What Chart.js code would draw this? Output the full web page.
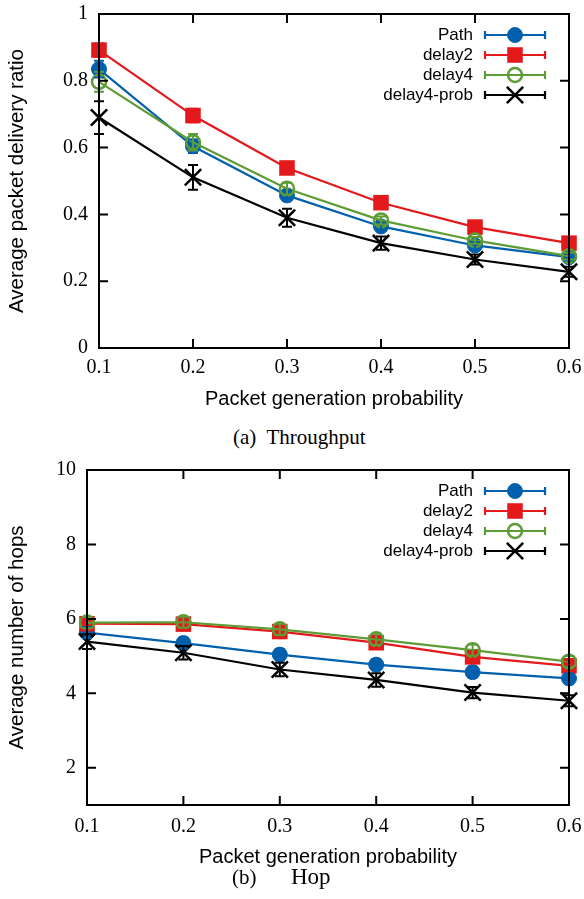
<!DOCTYPE html>
<html>
<head>
<meta charset="utf-8">
<script src="https://cdn.jsdelivr.net/npm/chart.js@4/dist/chart.umd.min.js"></script>
<style>
body{margin:0;background:#fff;width:584px;height:899px;position:relative;overflow:hidden}
.box{position:absolute;left:0;width:584px}
.cap{position:absolute;font-family:"Liberation Serif",serif;font-size:21px;line-height:24px;white-space:pre;color:#000}
</style>
</head>
<body>
<div class="box" style="top:0;height:411px"><canvas id="thr"></canvas></div>
<div class="box" style="top:455px;height:414px"><canvas id="hop"></canvas></div>
<div class="cap" style="left:233px;top:425px">(a)  Throughput</div>
<div class="cap" style="left:232px;top:865px">(b)</div>
<div class="cap" style="left:291px;top:865px;font-size:23px">Hop</div>
<script>
// x values (packet generation probability)
const probs = [0.1, 0.2, 0.3, 0.4, 0.5, 0.6];
const names = ['Path', 'delay2', 'delay4', 'delay4-prob'];
const colors = ['#0060ad', '#e3191c', '#5e9c36', '#000000'];

// (a) throughput
const thrPath = [0.835, 0.604, 0.457, 0.364, 0.307, 0.272];
const thrDelay2 = [0.892, 0.696, 0.539, 0.435, 0.362, 0.314];
const thrDelay4 = [0.797, 0.616, 0.477, 0.382, 0.322, 0.275];
const thrProb = [0.690, 0.511, 0.390, 0.314, 0.265, 0.228];
const thrPathErr = [0.025, 0.02, 0.015, 0.012, 0.01, 0.01];
const thrDelay2Err = [0.02, 0.02, 0.015, 0.012, 0.01, 0.01];
const thrDelay4Err = [0.03, 0.025, 0.018, 0.012, 0.01, 0.01];
const thrProbErr = [0.049, 0.037, 0.027, 0.02, 0.015, 0.015];

// (b) hops
const hopPath = [5.63, 5.35, 5.04, 4.77, 4.57, 4.40];
const hopDelay2 = [5.87, 5.86, 5.66, 5.36, 4.98, 4.74];
const hopDelay4 = [5.90, 5.91, 5.72, 5.45, 5.16, 4.85];
const hopProb = [5.39, 5.09, 4.64, 4.36, 4.02, 3.80];
const hopPathErr = [0.15, 0.15, 0.15, 0.15, 0.15, 0.15];
const hopDelay2Err = [0.15, 0.15, 0.15, 0.15, 0.15, 0.15];
const hopDelay4Err = [0.15, 0.15, 0.15, 0.15, 0.15, 0.15];
const hopProbErr = [0.2, 0.18, 0.18, 0.18, 0.15, 0.15];

const xTicks = [0.1, 0.2, 0.3, 0.4, 0.5, 0.6];
const thrTicks = [0, 0.2, 0.4, 0.6, 0.8, 1];
const hopTicks = [2, 4, 6, 8, 10];

const markers = [
  {pointStyle: 'circle', radius: 7.5, fill: true, borderWidth: 1},
  {pointStyle: 'rect', radius: 11, fill: true, borderWidth: 0},
  {pointStyle: 'circle', radius: 7, fill: false, borderWidth: 2.5},
  {pointStyle: 'crossRot', radius: 11.5, fill: false, borderWidth: 2.5}
];

function fmt(v) { return String(+(+v).toFixed(1)); }

function drawMarker(ctx, m, color, x, y) {
  ctx.fillStyle = m.fill ? color : 'rgba(0,0,0,0)';
  ctx.strokeStyle = color;
  ctx.lineWidth = m.borderWidth;
  if (Chart.helpers && Chart.helpers.drawPoint) {
    Chart.helpers.drawPoint(ctx, {pointStyle: m.pointStyle, radius: m.radius, rotation: 0, borderWidth: m.borderWidth}, x, y);
  }
}

const errorBars = {
  id: 'errorBars',
  afterDatasetsDraw(chart) {
    const {ctx, scales: {x, y}} = chart;
    ctx.save();
    ctx.lineWidth = 2;
    chart.data.datasets.forEach(ds => {
      ctx.strokeStyle = ds.borderColor;
      ds.data.forEach((p, j) => {
        const px = x.getPixelForValue(p.x);
        const lo = y.getPixelForValue(p.y - ds.errors[j]);
        const hi = y.getPixelForValue(p.y + ds.errors[j]);
        ctx.beginPath();
        ctx.moveTo(px, lo); ctx.lineTo(px, hi);
        ctx.moveTo(px - 5, lo); ctx.lineTo(px + 5, lo);
        ctx.moveTo(px - 5, hi); ctx.lineTo(px + 5, hi);
        ctx.stroke();
      });
    });
    ctx.restore();
  }
};

const frame = {
  id: 'frame',
  afterDatasetsDraw(chart) {
    const {ctx, chartArea: a, scales: {x, y}} = chart;
    const len = 9;
    ctx.save();
    ctx.strokeStyle = '#000';
    ctx.lineWidth = 2;
    ctx.beginPath();
    x.ticks.forEach(t => {
      const px = x.getPixelForValue(t.value);
      ctx.moveTo(px, a.bottom); ctx.lineTo(px, a.bottom - len);
      ctx.moveTo(px, a.top); ctx.lineTo(px, a.top + len);
    });
    y.ticks.forEach(t => {
      const py = y.getPixelForValue(t.value);
      ctx.moveTo(a.left, py); ctx.lineTo(a.left + len, py);
      ctx.moveTo(a.right, py); ctx.lineTo(a.right - len, py);
    });
    ctx.stroke();
    ctx.strokeRect(a.left, a.top, a.right - a.left, a.bottom - a.top);
    ctx.restore();
  }
};

const keyBox = {
  id: 'keyBox',
  afterDraw(chart) {
    const {ctx, chartArea: a} = chart;
    ctx.save();
    ctx.font = '17px "Liberation Sans", Arial, sans-serif';
    ctx.textAlign = 'right';
    ctx.textBaseline = 'middle';
    chart.data.datasets.forEach((ds, i) => {
      const yy = a.top + 21 + i * 20;
      const x0 = a.right - 84, x1 = a.right - 24;
      ctx.fillStyle = '#000';
      ctx.fillText(ds.label, a.right - 96, yy);
      ctx.strokeStyle = ds.borderColor;
      ctx.lineWidth = 2.2;
      ctx.beginPath();
      ctx.moveTo(x0, yy); ctx.lineTo(x1, yy);
      ctx.moveTo(x0, yy - 4); ctx.lineTo(x0, yy + 4);
      ctx.moveTo(x1, yy - 4); ctx.lineTo(x1, yy + 4);
      ctx.stroke();
      drawMarker(ctx, markers[i], ds.borderColor, (x0 + x1) / 2, yy);
    });
    ctx.restore();
  }
};

function makeChart(id, series, errs, yMin, yMax, yTicks, yTitle, plotLeft, plotTop, xTickPad) {
  const datasets = series.map((vals, i) => ({
    label: names[i],
    data: probs.map((p, j) => ({x: p, y: vals[j]})),
    errors: errs[i],
    borderColor: colors[i],
    backgroundColor: markers[i].fill ? colors[i] : 'rgba(0,0,0,0)',
    borderWidth: 2.2,
    pointStyle: markers[i].pointStyle,
    pointRadius: markers[i].radius,
    pointHoverRadius: markers[i].radius,
    pointBorderWidth: markers[i].borderWidth,
    pointBackgroundColor: markers[i].fill ? colors[i] : 'rgba(0,0,0,0)',
    tension: 0,
    clip: false,
    order: 3 - i
  }));
  return new Chart(document.getElementById(id), {
    type: 'line',
    data: {datasets},
    options: {
      responsive: true,
      maintainAspectRatio: false,
      animation: false,
      events: [],
      layout: {padding: {top: plotTop, right: 15, left: 0, bottom: 0}},
      plugins: {legend: {display: false}, tooltip: {enabled: false}},
      scales: {
        x: {
          type: 'linear', min: 0.1, max: 0.6,
          grid: {display: false, drawTicks: false}, border: {display: false},
          afterBuildTicks: s => { s.ticks = xTicks.map(v => ({value: v})); },
          afterFit: s => {
            s.height = s.chart.height - 348 - (plotTop - 13);
            s.paddingLeft = 0; s.paddingRight = 0;
          },
          ticks: {color: '#000', padding: xTickPad, maxRotation: 0,
            font: {family: '"Liberation Serif", serif', size: 20}, callback: v => fmt(v)},
          title: {display: true, text: 'Packet generation probability', color: '#000',
            padding: {top: 0, bottom: 0}, font: {family: '"Liberation Sans", Arial, sans-serif', size: 20}}
        },
        y: {
          min: yMin, max: yMax,
          grid: {display: false, drawTicks: false}, border: {display: false},
          afterBuildTicks: s => { s.ticks = yTicks.map(v => ({value: v})); },
          afterFit: s => {
            s.width = plotLeft;
            s.paddingTop = 0; s.paddingBottom = 0;
          },
          ticks: {color: '#000', padding: 11,
            font: {family: '"Liberation Serif", serif', size: 20}, callback: v => fmt(v)},
          title: {display: true, text: yTitle, color: '#000',
            padding: {top: 5, bottom: 0}, font: {family: '"Liberation Sans", Arial, sans-serif', size: 20.5}}
        }
      }
    },
    plugins: [errorBars, frame, keyBox]
  });
}

makeChart('thr', [thrPath, thrDelay2, thrDelay4, thrProb],
  [thrPathErr, thrDelay2Err, thrDelay4Err, thrProbErr],
  0, 1, thrTicks, 'Average packet delivery ratio', 99, 13, 8);

makeChart('hop', [hopPath, hopDelay2, hopDelay4, hopProb],
  [hopPathErr, hopDelay2Err, hopDelay4Err, hopProbErr],
  1, 10, hopTicks, 'Average number of hops', 87, 15, 10);
</script>
</body>
</html>
